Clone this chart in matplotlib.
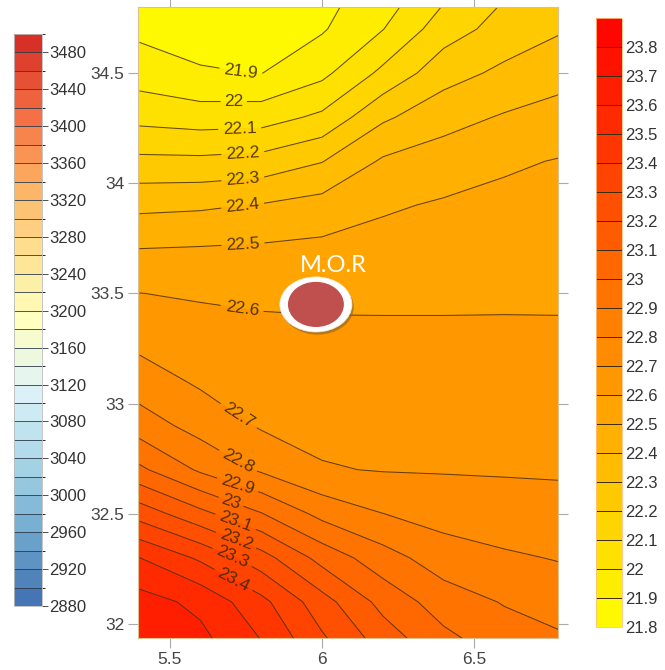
import numpy as np
import matplotlib
matplotlib.use('Agg')
import matplotlib.pyplot as plt
from matplotlib.colors import LinearSegmentedColormap, BoundaryNorm
from matplotlib.patches import Ellipse
import matplotlib.cm as cm

# ---------------- data ----------------
x_nodes = [5.4, 5.6, 5.8, 6.0, 6.2, 6.4, 6.6, 6.8]
y_nodes = [31.9, 32.1, 32.3, 32.5, 32.7, 32.9, 33.1, 33.3, 33.5,
           33.7, 33.9, 34.1, 34.3, 34.5, 34.7, 34.9]
z_values = [
    [23.69, 23.635, 23.51, 23.33, 23.17, 23.04, 22.96, 22.92],
    [23.64, 23.575, 23.429, 23.24, 23.067, 22.951, 22.893, 22.855],
    [23.501, 23.383, 23.241, 23.064, 22.941, 22.848, 22.814, 22.792],
    [23.259, 23.128, 23.005, 22.87, 22.801, 22.762, 22.744, 22.733],
    [23.02, 22.884, 22.786, 22.707, 22.695, 22.693, 22.691, 22.689],
    [22.85, 22.762, 22.69, 22.674, 22.669, 22.667, 22.665, 22.664],
    [22.747, 22.686, 22.657, 22.646, 22.643, 22.641, 22.64, 22.638],
    [22.669, 22.639, 22.625, 22.619, 22.617, 22.615, 22.614, 22.613],
    [22.601, 22.59, 22.583, 22.582, 22.583, 22.585, 22.587, 22.587],
    [22.502, 22.508, 22.515, 22.525, 22.537, 22.548, 22.556, 22.56],
    [22.376, 22.385, 22.406, 22.437, 22.487, 22.511, 22.525, 22.534],
    [22.224, 22.222, 22.236, 22.296, 22.413, 22.447, 22.486, 22.507],
    [22.069, 22.05, 22.056, 22.12, 22.283, 22.364, 22.409, 22.442],
    [21.953, 21.909, 21.898, 21.975, 22.123, 22.26, 22.322, 22.367],
    [21.877, 21.86, 21.85, 21.89, 21.997, 22.153, 22.239, 22.295],
    [21.83, 21.82, 21.82, 21.87, 21.93, 22.06, 22.18, 22.22],
]
levels = [round(21.8 + 0.1 * i, 1) for i in range(22)]          # 21.8 .. 23.9
labeled_levels = [round(21.9 + 0.1 * i, 1) for i in range(16)]  # 21.9 .. 23.4
label_x = [5.73, 5.71, 5.73, 5.74, 5.74, 5.74, 5.74, 5.74,
           5.71, 5.72, 5.72, 5.70, 5.72, 5.72, 5.71, 5.72]
label_y = [34.477, 34.34, 34.23, 34.127, 34.01, 33.89, 33.73, 33.46,
           32.91, 32.73, 32.62, 32.55, 32.48, 32.39, 32.32, 32.23]
x_ticks = [5.5, 6, 6.5]
y_ticks = [32, 32.5, 33, 33.5, 34, 34.5]

left_levels = list(range(2880, 3501, 20))
left_ticks = list(range(2880, 3481, 40))

marker_x, marker_y = 5.98, 33.45
marker_label = "M.O.R"

# ---------------- figure ----------------
fig = plt.figure(figsize=(6.65, 6.70), dpi=100)
narrow = ['Liberation Sans Narrow', 'Liberation Sans', 'DejaVu Sans']
arial = ['Liberation Sans', 'DejaVu Sans']

ax = fig.add_axes([138 / 665, 1 - 638 / 670, 420 / 665, 631 / 670])
X, Y = np.meshgrid(x_nodes, y_nodes)
Z = np.array(z_values)

line_color = '#4a3210'
cmap_main = LinearSegmentedColormap.from_list('yr', ['#ffff00', '#ff0000'])
cf = ax.contourf(X, Y, Z, levels=levels, cmap=cmap_main)
plain = [lv for lv in levels if lv not in labeled_levels]
ax.contour(X, Y, Z, levels=plain, colors=line_color, linewidths=0.75, alpha=0.85)

for lev, lx, ly in zip(labeled_levels, label_x, label_y):
    csl = ax.contour(X, Y, Z, levels=[lev], colors=line_color,
                     linewidths=0.75, alpha=0.85)
    txts = ax.clabel(csl, manual=[(lx, ly)], inline=True, inline_spacing=2,
                     fmt=lambda v: f'{v:g}', fontsize=12.5, colors='#3a2200')
    for t in txts:
        t.set_family(arial)

ax.set_xlim(5.395, 6.776)
ax.set_ylim(31.936, 34.8)
ax.set_xticks(x_ticks)
ax.set_xticklabels([f'{v:g}' for v in x_ticks])
ax.set_yticks(y_ticks)
ax.set_yticklabels([f'{v:g}' for v in y_ticks])
ax.tick_params(direction='out', length=7, width=0.8, color='#aaaaaa',
               labelcolor='#444444', labelsize=12.5, top=True, right=True,
               labeltop=False, labelright=False, pad=3)
for lab in ax.get_xticklabels() + ax.get_yticklabels():
    lab.set_family(arial)
for sp in ax.spines.values():
    sp.set_color('#d8c090')
    sp.set_linewidth(0.8)

# marker
ax.add_patch(Ellipse((marker_x + 0.006, marker_y - 0.012), 0.237, 0.25,
                     facecolor='#8a6020', edgecolor='none', alpha=0.6, zorder=5))
ax.add_patch(Ellipse((marker_x, marker_y), 0.237, 0.25,
                     facecolor='white', edgecolor='#f0e8e0', lw=0.5, zorder=6))
ax.add_patch(Ellipse((marker_x, marker_y), 0.184, 0.205,
                     facecolor='#c0504d', edgecolor='none', zorder=7))
ax.text(marker_x + 0.056, marker_y + 0.177, marker_label, color='white',
        fontsize=17, family=['Lato', 'DejaVu Sans'], ha='center', va='center',
        zorder=8)

# right colorbar (main)
cax2 = fig.add_axes([596 / 665, 1 - 627 / 670, 26 / 665, 609 / 670])
cb2 = fig.colorbar(cf, cax=cax2, ticks=levels[:-1], drawedges=True)
cb2.ax.set_yticklabels([f'{v:g}' for v in levels[:-1]])
cb2.dividers.set_color('#3a2a10')
cb2.dividers.set_linewidth(0.7)
cb2.outline.set_edgecolor('#ffc080')
cb2.outline.set_linewidth(0.6)
cb2.ax.tick_params(length=0, labelsize=12, labelcolor='#333333', pad=2)
for lab in cb2.ax.get_yticklabels():
    lab.set_family(narrow)

# left colorbar
left_colors = ['#4575b4', '#74add1', '#abd9e9', '#e0f3f8', '#ffffbf',
               '#fee090', '#fdae61', '#f46d43', '#d73027']
cmap_left = LinearSegmentedColormap.from_list('rb', left_colors)
norm_left = BoundaryNorm(left_levels, cmap_left.N)
sm = cm.ScalarMappable(norm=norm_left, cmap=cmap_left)
cax1 = fig.add_axes([14 / 665, 1 - 606 / 670, 28 / 665, 572 / 670])
cb1 = fig.colorbar(sm, cax=cax1, ticks=left_ticks, drawedges=True,
                   boundaries=left_levels)
cb1.dividers.set_color('#2d3a4a')
cb1.dividers.set_linewidth(0.6)
cb1.outline.set_edgecolor('#bbbbbb')
cb1.outline.set_linewidth(0.6)
cb1.ax.tick_params(length=4, width=0.6, color='#333333', labelsize=12,
                   labelcolor='#333333', pad=1)
for lab in cb1.ax.get_yticklabels():
    lab.set_family(narrow)

fig.savefig('out.png', dpi=100)
